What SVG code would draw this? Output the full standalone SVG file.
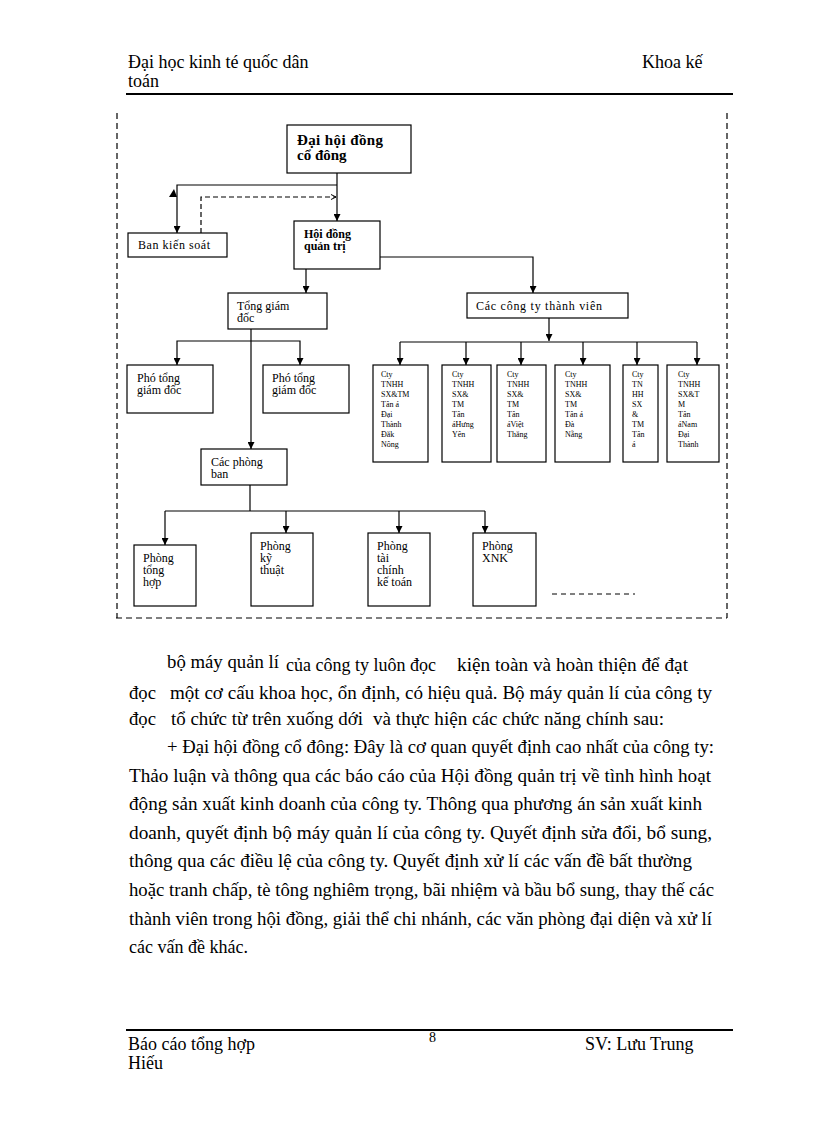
<svg xmlns="http://www.w3.org/2000/svg" width="816" height="1123" viewBox="0 0 816 1123">
<style>
text{font-family:"Liberation Serif","Times New Roman",serif;fill:#000}
.hd{font-size:18px}
.body{font-size:18px}
.box{fill:#fff;stroke:#000;stroke-width:1.2}
.t13{font-size:12px}
.b15{font-size:15px;font-weight:bold}
.b12{font-size:12px;font-weight:bold}
.co{font-size:8px}
.ln{fill:none;stroke:#000;stroke-width:1.2}
.frame{fill:none;stroke:#000;stroke-width:1.2;stroke-dasharray:6 4}
</style>
<defs>
<marker id="arr" viewBox="0 0 10 10" refX="10" refY="5" markerWidth="8" markerHeight="7" orient="auto" markerUnits="userSpaceOnUse">
<path d="M0,0 L10,5 L0,10 z" fill="#000"/>
</marker>
<marker id="open" viewBox="0 0 10 10" refX="10" refY="5" markerWidth="5" markerHeight="6" orient="auto" markerUnits="userSpaceOnUse">
<path d="M0,0 L10,5 L0,10" fill="none" stroke="#000" stroke-width="2"/>
</marker>
</defs>
<rect width="816" height="1123" fill="#fff"/>

<g id="header">
<text class="hd" x="128" y="68">Đại học kinh té quốc dân</text>
<text class="hd" x="128" y="87">toán</text>
<text class="hd" x="642" y="68">Khoa kế</text>
<line x1="126" y1="94" x2="733" y2="94" stroke="#000" stroke-width="2"/>
</g>

<g id="frame">
<line class="frame" x1="117" y1="113" x2="117" y2="618"/>
<line class="frame" x1="727" y1="113" x2="727" y2="618"/>
<line class="frame" x1="116" y1="618" x2="727" y2="618"/>
</g>

<g id="connectors">
<path class="ln" d="M337,173 V221" marker-end="url(#arr)"/>
<path class="ln" d="M337,185 H177 V233" marker-end="url(#arr)"/>
<polygon points="169,197 174,189 177,197" fill="#000"/>
<path class="ln" d="M201,233 V197 H336" stroke-dasharray="5 3" marker-end="url(#open)"/>
<path class="ln" d="M306,269 V293" marker-end="url(#arr)"/>
<path class="ln" d="M380,257 H533 V293" marker-end="url(#arr)"/>
<path class="ln" d="M251,329 V449" marker-end="url(#arr)"/>
<path class="ln" d="M251,341 H177 V365" marker-end="url(#arr)"/>
<path class="ln" d="M251,341 H300 V365" marker-end="url(#arr)"/>
<path class="ln" d="M549,318 V341" marker-end="url(#arr)"/>
<path class="ln" d="M400,342 H697"/>
<path class="ln" d="M400,342 V365" marker-end="url(#arr)"/>
<path class="ln" d="M466,342 V365" marker-end="url(#arr)"/>
<path class="ln" d="M521,342 V365" marker-end="url(#arr)"/>
<path class="ln" d="M583,342 V365" marker-end="url(#arr)"/>
<path class="ln" d="M637,342 V365" marker-end="url(#arr)"/>
<path class="ln" d="M697,342 V365" marker-end="url(#arr)"/>
<path class="ln" d="M250,485 V511"/>
<path class="ln" d="M165,511 H485"/>
<path class="ln" d="M165,511 V545" marker-end="url(#arr)"/>
<path class="ln" d="M286,511 V533" marker-end="url(#arr)"/>
<path class="ln" d="M399,511 V533" marker-end="url(#arr)"/>
<path class="ln" d="M485,511 V533" marker-end="url(#arr)"/>
<line x1="552" y1="594" x2="635" y2="594" stroke="#000" stroke-width="1" stroke-dasharray="5 4"/>
</g>

<g id="dhdcd">
<rect class="box" x="287" y="125" width="124" height="48"/>
<text class="b15" x="297" y="145" textLength="86" lengthAdjust="spacing">Đại hội đồng</text>
<text class="b15" x="297" y="160">cổ đông</text>
</g>
<g id="bks">
<rect class="box" x="128" y="233" width="99" height="24"/>
<text class="t13" x="138" y="249" textLength="72" lengthAdjust="spacing">Ban kiến soát</text>
</g>
<g id="hdqt">
<rect class="box" x="294" y="221" width="86" height="48"/>
<text class="b12" x="304" y="238">Hội đồng</text>
<text class="b12" x="304" y="250">quản trị</text>
</g>
<g id="tgd">
<rect class="box" x="228" y="293" width="99" height="36"/>
<text class="t13" x="237" y="310">Tổng giám</text>
<text class="t13" x="237" y="322">đốc</text>
</g>
<g id="cctv">
<rect class="box" x="467" y="293" width="161" height="25"/>
<text class="t13" x="476" y="310" textLength="126" lengthAdjust="spacing">Các công ty thành viên</text>
</g>
<g id="ptgd1">
<rect class="box" x="127" y="365" width="86" height="48"/>
<text class="t13" x="137" y="382">Phó tổng</text>
<text class="t13" x="137" y="394">giám đốc</text>
</g>
<g id="ptgd2">
<rect class="box" x="263" y="365" width="86" height="48"/>
<text class="t13" x="272" y="382">Phó tổng</text>
<text class="t13" x="272" y="394">giám đốc</text>
</g>
<g id="cty1">
<rect class="box" x="373" y="365" width="55" height="97"/>
<text class="co" x="381" y="377">Cty</text>
<text class="co" x="381" y="387">TNHH</text>
<text class="co" x="381" y="397">SX&amp;TM</text>
<text class="co" x="381" y="407">Tân á</text>
<text class="co" x="381" y="417">Đại</text>
<text class="co" x="381" y="427">Thành</text>
<text class="co" x="381" y="437">Đắk</text>
<text class="co" x="381" y="447">Nông</text>
</g>
<g id="cty2">
<rect class="box" x="442" y="365" width="49" height="97"/>
<text class="co" x="452" y="377">Cty</text>
<text class="co" x="452" y="387">TNHH</text>
<text class="co" x="452" y="397">SX&amp;</text>
<text class="co" x="452" y="407">TM</text>
<text class="co" x="452" y="417">Tân</text>
<text class="co" x="452" y="427">áHưng</text>
<text class="co" x="452" y="437">Yên</text>
</g>
<g id="cty3">
<rect class="box" x="497" y="365" width="49" height="97"/>
<text class="co" x="507" y="377">Cty</text>
<text class="co" x="507" y="387">TNHH</text>
<text class="co" x="507" y="397">SX&amp;</text>
<text class="co" x="507" y="407">TM</text>
<text class="co" x="507" y="417">Tân</text>
<text class="co" x="507" y="427">áViệt</text>
<text class="co" x="507" y="437">Thắng</text>
</g>
<g id="cty4">
<rect class="box" x="555" y="365" width="55" height="97"/>
<text class="co" x="565" y="377">Cty</text>
<text class="co" x="565" y="387">TNHH</text>
<text class="co" x="565" y="397">SX&amp;</text>
<text class="co" x="565" y="407">TM</text>
<text class="co" x="565" y="417">Tân á</text>
<text class="co" x="565" y="427">Đà</text>
<text class="co" x="565" y="437">Nẵng</text>
</g>
<g id="cty5">
<rect class="box" x="623" y="365" width="35" height="97"/>
<text class="co" x="632" y="377">Cty</text>
<text class="co" x="632" y="387">TN</text>
<text class="co" x="632" y="397">HH</text>
<text class="co" x="632" y="407">SX</text>
<text class="co" x="632" y="417">&amp;</text>
<text class="co" x="632" y="427">TM</text>
<text class="co" x="632" y="437">Tân</text>
<text class="co" x="632" y="447">á</text>
</g>
<g id="cty6">
<rect class="box" x="667" y="365" width="52" height="97"/>
<text class="co" x="678" y="377">Cty</text>
<text class="co" x="678" y="387">TNHH</text>
<text class="co" x="678" y="397">SX&amp;T</text>
<text class="co" x="678" y="407">M</text>
<text class="co" x="678" y="417">Tân</text>
<text class="co" x="678" y="427">áNam</text>
<text class="co" x="678" y="437">Đại</text>
<text class="co" x="678" y="447">Thành</text>
</g>
<g id="cpb">
<rect class="box" x="201" y="449" width="86" height="36"/>
<text class="t13" x="211" y="466">Các phòng</text>
<text class="t13" x="211" y="478">ban</text>
</g>
<g id="pth">
<rect class="box" x="134" y="545" width="62" height="61"/>
<text class="t13" x="143" y="562">Phòng</text>
<text class="t13" x="143" y="574">tổng</text>
<text class="t13" x="143" y="586">hợp</text>
</g>
<g id="pkt">
<rect class="box" x="251" y="533" width="62" height="73"/>
<text class="t13" x="260" y="550">Phòng</text>
<text class="t13" x="260" y="562">kỹ</text>
<text class="t13" x="260" y="574">thuật</text>
</g>
<g id="ptckt">
<rect class="box" x="368" y="533" width="62" height="73"/>
<text class="t13" x="377" y="550">Phòng</text>
<text class="t13" x="377" y="562">tài</text>
<text class="t13" x="377" y="574">chính</text>
<text class="t13" x="377" y="586">kế toán</text>
</g>
<g id="pxnk">
<rect class="box" x="473" y="533" width="63" height="73"/>
<text class="t13" x="482" y="550">Phòng</text>
<text class="t13" x="482" y="562">XNK</text>
</g>

<g id="bodytext" class="body">
<text class="body" x="167" y="668" textLength="112" lengthAdjust="spacingAndGlyphs">bộ máy quản lí</text>
<text class="body" x="286" y="671" textLength="150" lengthAdjust="spacingAndGlyphs">của công ty luôn đọc</text>
<text class="body" x="457" y="671" textLength="231" lengthAdjust="spacingAndGlyphs">kiện toàn và hoàn thiện để đạt</text>
<text class="body" x="129" y="699" textLength="27" lengthAdjust="spacingAndGlyphs">đọc</text>
<text class="body" x="170" y="699" textLength="542" lengthAdjust="spacingAndGlyphs">một cơ cấu khoa học, ổn định, có hiệu quả. Bộ máy quản lí của công ty</text>
<text class="body" x="129" y="725" textLength="27" lengthAdjust="spacingAndGlyphs">đọc</text>
<text class="body" x="171" y="725" textLength="192" lengthAdjust="spacingAndGlyphs">tổ chức từ trên xuống dới</text>
<text class="body" x="373" y="725" textLength="291" lengthAdjust="spacingAndGlyphs">và thực hiện các chức năng chính sau:</text>
<text class="body" x="167" y="753" textLength="547" lengthAdjust="spacingAndGlyphs">+ Đại hội đồng cổ đông: Đây là  cơ quan quyết định cao nhất của công ty:</text>
<text class="body" x="129" y="782" textLength="582" lengthAdjust="spacingAndGlyphs">Thảo luận và thông qua các báo cáo của Hội đồng quản trị về tình hình hoạt</text>
<text class="body" x="129" y="810" textLength="573" lengthAdjust="spacingAndGlyphs">động sản xuất kinh  doanh của công ty. Thông qua phương án sản xuất kinh</text>
<text class="body" x="129" y="839" textLength="583" lengthAdjust="spacingAndGlyphs">doanh, quyết định bộ máy quản lí của công ty. Quyết định sửa đổi, bổ sung,</text>
<text class="body" x="129" y="867" textLength="563" lengthAdjust="spacingAndGlyphs">thông qua các điều lệ của công ty. Quyết  định xử lí các vấn  đề bất thường</text>
<text class="body" x="129" y="896" textLength="585" lengthAdjust="spacingAndGlyphs">hoặc tranh chấp, tè tông nghiêm  trọng, bãi nhiệm  và bầu bổ sung, thay thế các</text>
<text class="body" x="129" y="925" textLength="583" lengthAdjust="spacingAndGlyphs">thành viên trong hội đồng, giải  thể chi nhánh, các văn phòng đại diện và xử lí</text>
<text class="body" x="129" y="953">các vấn  đề khác.</text>
</g>

<g id="footer">
<line x1="126" y1="1030" x2="733" y2="1030" stroke="#000" stroke-width="2"/>
<text class="hd" x="128" y="1050">Báo cáo tổng hợp</text>
<text class="hd" x="128" y="1069">Hiếu</text>
<text x="429" y="1042" style="font-size:14px">8</text>
<text class="hd" x="585" y="1050">SV: Lưu Trung</text>
</g>
</svg>
